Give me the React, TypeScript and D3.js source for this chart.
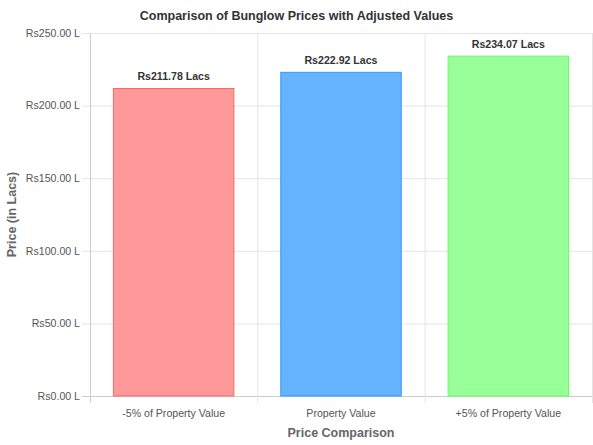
import React from "react";
import * as d3 from "d3";

const categories = ["-5% of Property Value", "Property Value", "+5% of Property Value"];
const prices = [211.78, 222.92, 234.07];
const fills = ["#ff9999", "#66b3ff", "#99ff99"];
const strokes = ["#ff6666", "#3399ff", "#66ff66"];
const yTicks = [0, 50, 100, 150, 200, 250];

const W = 593;
const H = 445;
const margin = { top: 33, right: 1, bottom: 49, left: 90 };
const font = "'Liberation Sans', Arial, Helvetica, sans-serif";

export default function App() {
  const innerW = W - margin.left - margin.right;
  const innerH = H - margin.top - margin.bottom;

  const x = d3.scaleBand().domain(categories).range([0, innerW]).paddingInner(0).paddingOuter(0);
  const y = d3.scaleLinear().domain([0, 250]).range([innerH, 0]);
  const barW = x.bandwidth() * 0.72;

  return (
    <svg
      width={W}
      height={H}
      style={{ position: "absolute", left: 0, top: 0, fontFamily: font }}
    >
      <text x={W / 2} y={20} textAnchor="middle" fontSize={12.5} fontWeight="bold" fill="#333">
        Comparison of Bunglow Prices with Adjusted Values
      </text>
      <g transform={`translate(${margin.left},${margin.top})`}>
        {yTicks.map((t) => (
          <g key={t}>
            <line x1={-8} x2={innerW} y1={y(t) + 0.5} y2={y(t) + 0.5} stroke={t === 0 ? "#ccc" : "#e5e5e5"} />
            <text x={-10} y={y(t)} dy="0.35em" textAnchor="end" fontSize={10.6} fill="#555">
              {`Rs${t.toFixed(2)} L`}
            </text>
          </g>
        ))}
        {categories.map((c, i) => (
          <line key={c} x1={x(c)! + 0.5} x2={x(c)! + 0.5} y1={0} y2={innerH + 7} stroke={i === 0 ? "#ccc" : "#e5e5e5"} />
        ))}
        <line x1={innerW + 0.5} x2={innerW + 0.5} y1={0} y2={innerH + 7} stroke="#e5e5e5" />
        {categories.map((c, i) => {
          const cx = x(c)! + x.bandwidth() / 2;
          const top = y(prices[i]);
          return (
            <g key={c}>
              <rect
                x={cx - barW / 2}
                y={top}
                width={barW}
                height={innerH - top}
                fill={fills[i]}
                stroke={strokes[i]}
                strokeWidth={1}
              />
              <text x={cx} y={top - 8} textAnchor="middle" fontSize={10.6} fontWeight="bold" fill="#333">
                {`Rs${prices[i].toFixed(2)} Lacs`}
              </text>
              <text x={cx} y={innerH + 17} dy="0.35em" textAnchor="middle" fontSize={10.6} fill="#555">
                {c}
              </text>
            </g>
          );
        })}
      </g>
      <text x={margin.left + innerW / 2} y={437} textAnchor="middle" fontSize={12.5} fontWeight="bold" fill="#666">
        Price Comparison
      </text>
      <text
        transform={`translate(15.5,${margin.top + innerH / 2}) rotate(-90)`}
        textAnchor="middle"
        fontSize={12.5}
        fontWeight="bold"
        fill="#666"
      >
        Price (in Lacs)
      </text>
    </svg>
  );
}
